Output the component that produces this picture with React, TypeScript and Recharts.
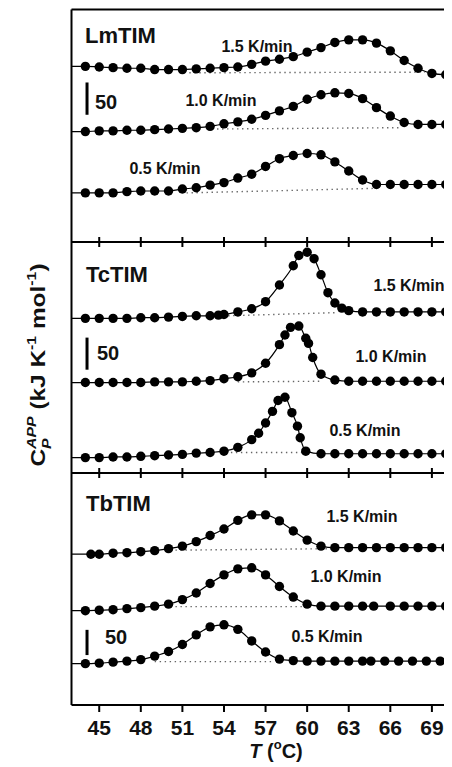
import React from "react";
import { LineChart, Line, XAxis, YAxis, ReferenceLine } from "recharts";

// ---------------------------------------------------------------------------
// Data — temperature in °C, Cp in kJ K^-1 mol^-1
// (curves are offset vertically inside each panel)
// ---------------------------------------------------------------------------

const T_MIN = 43;
const T_MAX = 70.45;
const X_TICKS = [45, 48, 51, 54, 57, 60, 63, 66, 69];

const PANEL_NAMES = ["LmTIM", "TcTIM", "TbTIM"];
const RATE_LABELS = ["1.5 K/min", "1.0 K/min", "0.5 K/min"];

// LmTIM
const lmTemps = [44, 45, 46, 47, 48, 49, 50, 51, 52, 53, 54, 55, 56, 57, 58, 59, 60, 61, 62, 63, 64, 65, 66, 67, 68, 69, 70];
const lm15 = [272, 271, 270, 269, 269, 267, 267, 267, 268, 269, 270, 271, 275, 280, 283, 287, 294, 301, 309, 313, 313, 308, 296, 281, 269, 261, 259];
const lm10 = [171, 172, 172, 173, 173, 174, 175, 176, 177, 179, 183, 186, 190, 196, 203, 210, 221, 228, 231, 230, 222, 208, 195, 185, 182, 182, 182];
const lm05 = [76, 76, 76, 78, 79, 79, 79, 82, 84, 88, 92, 99, 105, 117, 129, 134, 137, 135, 124, 110, 96, 89, 89, 89, 89, 89, 89];
const lmBaseT = [[51.5, 68.5], [53.5, 66.7], [51.3, 64.8]];
const lmBaseV = [[262, 263], [175, 177], [76, 83]];
const lmBar = [197, 247];

// TcTIM
const tc15Temps = [44, 45, 46, 47, 48, 49, 50, 51, 52, 53, 53.6, 54, 55, 56, 57, 58, 59, 59.4, 60, 60.5, 61, 61.5, 62, 62.5, 63, 64, 65, 66, 67, 68, 69, 70];
const tc15 = [241, 241, 241, 241, 242, 242, 243, 244, 245, 245, 246, 247, 251, 256, 267, 293, 323, 339, 344, 334, 309, 281, 265, 257, 253, 251, 251, 251, 251, 251, 251, 251];
const tc10Temps = [44, 45, 46, 47, 48, 49, 50, 51, 52, 53, 54, 55, 56, 57, 58, 58.4, 58.8, 59.4, 59.9, 60.1, 60.4, 61, 62, 63, 64, 65, 66, 67, 68, 69, 70];
const tc10 = [141, 141, 141, 141, 141, 142, 142, 142, 143, 144, 147, 150, 156, 171, 200, 215, 227, 229, 210, 202, 180, 154, 145, 143, 143, 143, 143, 143, 143, 143, 143];
const tc05Temps = [44, 45, 46, 47, 48, 49, 50, 51, 52, 53, 54, 55, 56, 56.5, 57, 57.5, 57.9, 58.4, 58.9, 59.3, 59.5, 59.9, 61, 62, 63, 64, 65, 66, 67, 68, 69, 70];
const tc05 = [24, 24, 25, 25, 26, 27, 28, 29, 31, 32, 34, 40, 52, 62, 78, 96, 113, 118, 94, 73, 55, 34, 30, 30, 30, 30, 30, 30, 30, 30, 30, 30];
const tcBaseT = [[54.3, 62.2], [55, 61], [54.5, 59.7]];
const tcBaseV = [[245, 250], [142, 143], [32, 32]];
const tcBar = [161, 211];

// TbTIM
const tb15Temps = [44.4, 45, 46, 47, 48, 49, 50, 51, 52, 53, 54, 55, 56, 57, 58, 59, 60, 61, 62, 63, 64, 65, 66, 67, 68, 69, 70];
const tb15 = [299, 299, 301, 302, 304, 306, 310, 315, 324, 336, 349, 366, 377, 377, 365, 345, 327, 315, 312, 312, 312, 312, 312, 312, 312, 312, 312];
const tb10Temps = [44, 45, 46, 47, 48, 49, 50, 51, 52, 53, 54, 55, 56, 57, 58, 59, 60, 61, 62, 63, 64, 64.8, 66, 67, 68, 69, 70];
const tb10 = [187, 188, 189, 191, 193, 196, 200, 209, 222, 241, 258, 270, 272, 258, 235, 214, 200, 196, 196, 196, 196, 196, 196, 196, 196, 196, 196];
const tb05Temps = [44, 45, 46, 47, 48, 49, 50, 51, 52, 53, 54, 55, 56, 57, 58, 59, 60, 61, 62, 63, 64, 64.6, 65.6, 66.6, 67.6, 68.6, 69.6];
const tb05 = [82, 83, 85, 87, 90, 97, 106, 120, 139, 155, 159, 150, 127, 105, 91, 88, 87, 87, 87, 87, 87, 87, 87, 87, 87, 87, 87];
const tbBaseT = [[50.5, 62], [50.5, 60], [49, 57.5]];
const tbBaseV = [[307, 310], [195, 195], [86, 86]];
const tbBar = [99, 149];

const BAR_T = 44.12;

// ---------------------------------------------------------------------------
// Helpers
// ---------------------------------------------------------------------------

type Pt = { t: number; v: number; ext?: boolean };

// line runs from the left axis to the right edge, dots only at measured points
function series(temps: number[], vals: number[]): Pt[] {
  return [
    { t: T_MIN, v: vals[0], ext: true },
    ...temps.map((t, i) => ({ t, v: vals[i] })),
    { t: T_MAX, v: vals[vals.length - 1], ext: true },
  ];
}

function baseline(ts: number[], vs: number[]): Pt[] {
  return ts.map((t, i) => ({ t, v: vs[i] }));
}

const renderDot = (p: any) => {
  if (p.payload?.ext) return <g key={`e-${p.index}`} />;
  return <circle key={`d-${p.index}`} cx={p.cx} cy={p.cy} r={4.7} fill="#000" />;
};

const FONT = "'Liberation Sans', Arial, Helvetica, sans-serif";
const W = 444;
const AXIS_W = 63.5;

function TickMark(props: any) {
  const { x, y, payload, up, down, showLabel } = props;
  return (
    <g>
      <line x1={x} x2={x} y1={y - up} y2={y + down} stroke="#000" strokeWidth={2} />
      {showLabel && (
        <text x={x} y={y + 30} textAnchor="middle" fontFamily={FONT} fontWeight={700} fontSize={21} fill="#111">
          {payload.value}
        </text>
      )}
    </g>
  );
}

function curveLines(curves: Pt[][], bases: Pt[][], id: string) {
  return [
    ...bases.map((d, i) => (
      <Line
        key={`${id}-b${i}`}
        data={d}
        dataKey="v"
        type="linear"
        stroke="#666"
        strokeWidth={1.4}
        strokeDasharray="1.4 3.6"
        dot={false}
        activeDot={false}
        isAnimationActive={false}
      />
    )),
    ...curves.map((d, i) => (
      <Line
        key={`${id}-c${i}`}
        data={d}
        dataKey="v"
        type="monotone"
        stroke="#000"
        strokeWidth={1.2}
        dot={renderDot}
        activeDot={false}
        isAnimationActive={false}
      />
    )),
  ];
}

const textBold = { fontFamily: FONT, fontWeight: 700, fill: "#111" } as const;

// ---------------------------------------------------------------------------
// App
// ---------------------------------------------------------------------------

export default function App() {
  const lmCurves = [series(lmTemps, lm15), series(lmTemps, lm10), series(lmTemps, lm05)];
  const lmBases = lmBaseT.map((t, i) => baseline(t, lmBaseV[i]));
  const tcCurves = [series(tc15Temps, tc15), series(tc10Temps, tc10), series(tc05Temps, tc05)];
  const tcBases = tcBaseT.map((t, i) => baseline(t, tcBaseV[i]));
  const tbCurves = [series(tb15Temps, tb15), series(tb10Temps, tb10), series(tb05Temps, tb05)];
  const tbBases = tbBaseT.map((t, i) => baseline(t, tbBaseV[i]));

  const xAxisCommon = {
    dataKey: "t",
    type: "number" as const,
    domain: [T_MIN, T_MAX],
    allowDataOverflow: true,
    ticks: X_TICKS,
    interval: 0 as const,
    tickSize: 0,
    tickMargin: 0,
    tickLine: false,
    axisLine: { stroke: "#000", strokeWidth: 2 },
  };
  const yAxisCommon = {
    type: "number" as const,
    allowDataOverflow: true,
    tick: false,
    tickLine: false,
    width: AXIS_W,
    axisLine: { stroke: "#000", strokeWidth: 2 },
  };

  return (
    <div style={{ position: "relative", width: W, height: 759 }}>
      {/* LmTIM */}
      <div style={{ position: "absolute", left: 0, top: 0 }}>
        <LineChart width={W} height={242} margin={{ top: 1.5, right: 0, bottom: 0, left: 0 }}>
          <XAxis {...xAxisCommon} height={8} tick={(p: any) => <TickMark {...p} up={5} down={5} />} />
          <YAxis {...yAxisCommon} domain={[0, 360]} />
          <ReferenceLine y={360} stroke="#000" strokeWidth={2} />
          <ReferenceLine
            segment={[{ x: BAR_T, y: lmBar[0] }, { x: BAR_T, y: lmBar[1] }]}
            stroke="#000"
            strokeWidth={3}
          />
          {curveLines(lmCurves, lmBases, "lm")}
          <text x={77} y={35} fontSize={22} {...textBold}>{PANEL_NAMES[0]}</text>
          <text x={249} y={44} fontSize={16} textAnchor="middle" {...textBold}>{RATE_LABELS[0]}</text>
          <text x={213} y={97.5} fontSize={16} textAnchor="middle" {...textBold}>{RATE_LABELS[1]}</text>
          <text x={157} y={166} fontSize={16} textAnchor="middle" {...textBold}>{RATE_LABELS[2]}</text>
          <text x={87} y={100.5} fontSize={20} {...textBold}>50</text>
        </LineChart>
      </div>

      {/* TcTIM */}
      <div style={{ position: "absolute", left: 0, top: 234 }}>
        <LineChart width={W} height={239} margin={{ top: 0, right: 0, bottom: 0, left: 0 }}>
          <XAxis {...xAxisCommon} height={8} tick={(p: any) => <TickMark {...p} up={5} down={5} />} />
          <YAxis {...yAxisCommon} domain={[0, 360]} />
          <ReferenceLine
            segment={[{ x: BAR_T, y: tcBar[0] }, { x: BAR_T, y: tcBar[1] }]}
            stroke="#000"
            strokeWidth={3}
          />
          {curveLines(tcCurves, tcBases, "tc")}
          <text x={78} y={39.7} fontSize={22} {...textBold}>{PANEL_NAMES[1]}</text>
          <text x={401} y={48.5} fontSize={16} textAnchor="middle" {...textBold}>{RATE_LABELS[0]}</text>
          <text x={383} y={119.5} fontSize={16} textAnchor="middle" {...textBold}>{RATE_LABELS[1]}</text>
          <text x={357} y={193.5} fontSize={16} textAnchor="middle" {...textBold}>{RATE_LABELS[2]}</text>
          <text x={89} y={118} fontSize={20} {...textBold}>50</text>
          <text
            transform="translate(37,123) rotate(-90) scale(1.22,1)"
            textAnchor="middle"
            fontSize={20}
            style={{ whiteSpace: "pre" }}
            {...textBold}
          >
            <tspan>C</tspan>
            <tspan fontSize={13} fontStyle="italic" dy={-9}>APP</tspan>
            <tspan fontSize={13} fontStyle="italic" dx={-26.7} dy={15}>P</tspan>
            <tspan dx={18} dy={-6}> (kJ K</tspan>
            <tspan fontSize={13} dy={-9}>-1</tspan>
            <tspan dy={9}> mol</tspan>
            <tspan fontSize={13} dy={-9}>-1</tspan>
            <tspan dy={9}>)</tspan>
          </text>
        </LineChart>
      </div>

      {/* TbTIM */}
      <div style={{ position: "absolute", left: 0, top: 465 }}>
        <LineChart width={W} height={294} margin={{ top: 0, right: 0, bottom: 0, left: 0 }}>
          <XAxis
            {...xAxisCommon}
            height={62}
            tick={(p: any) => <TickMark {...p} up={0} down={7} showLabel />}
          />
          <YAxis {...yAxisCommon} domain={[0, 460]} />
          <ReferenceLine
            segment={[{ x: BAR_T, y: tbBar[0] }, { x: BAR_T, y: tbBar[1] }]}
            stroke="#000"
            strokeWidth={3}
          />
          {curveLines(tbCurves, tbBases, "tb")}
          <text x={78} y={37.7} fontSize={22} {...textBold}>{PANEL_NAMES[2]}</text>
          <text x={354} y={49} fontSize={16} textAnchor="middle" {...textBold}>{RATE_LABELS[0]}</text>
          <text x={338} y={109} fontSize={16} textAnchor="middle" {...textBold}>{RATE_LABELS[1]}</text>
          <text x={319} y={169} fontSize={16} textAnchor="middle" {...textBold}>{RATE_LABELS[2]}</text>
          <text x={97} y={171} fontSize={20} {...textBold}>50</text>
          <text x={268} y={285} fontSize={20} textAnchor="middle" {...textBold}>
            <tspan fontStyle="italic">T</tspan>
            <tspan> (</tspan>
            <tspan fontSize={13} dy={-9}>o</tspan>
            <tspan dy={9}>C)</tspan>
          </text>
        </LineChart>
      </div>
    </div>
  );
}
